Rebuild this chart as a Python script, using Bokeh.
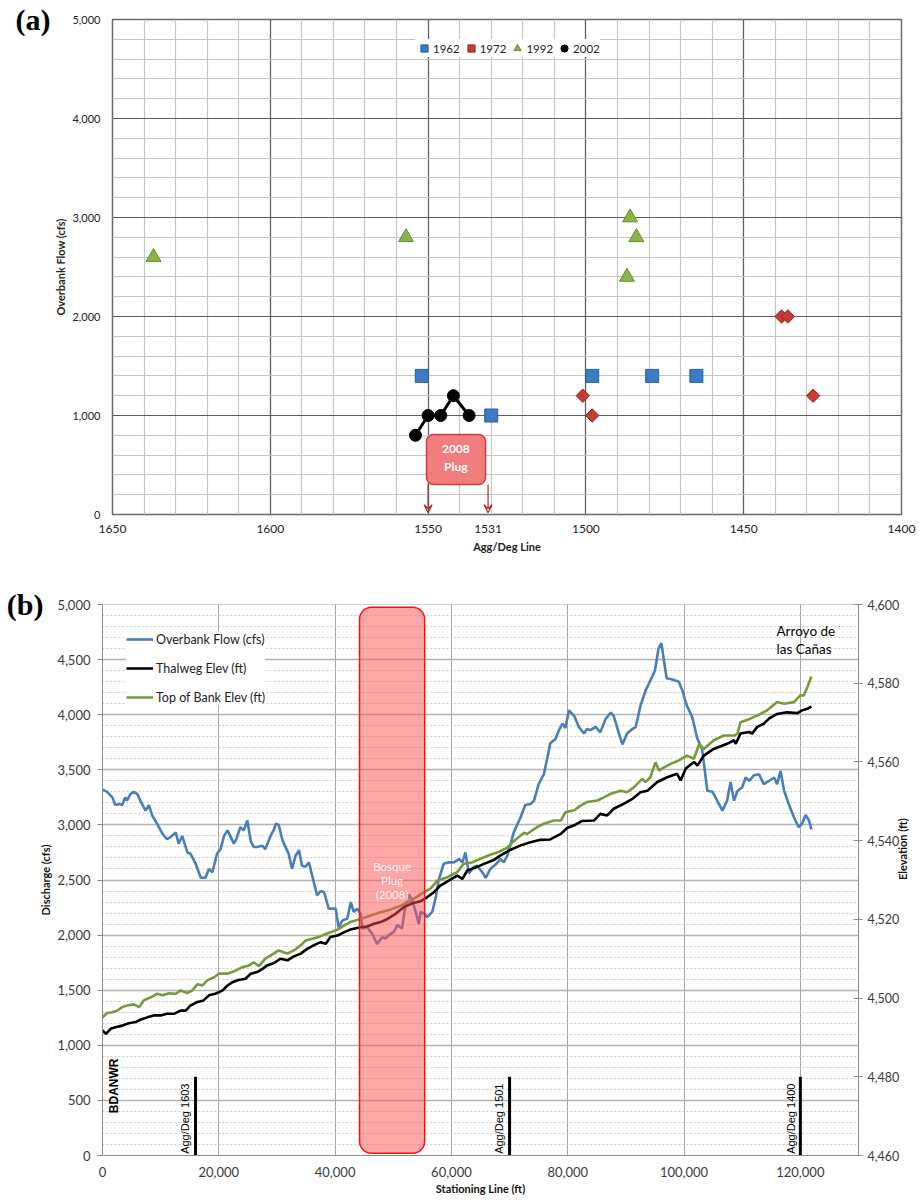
import numpy as np
from bokeh.plotting import figure
from bokeh.layouts import column
from bokeh.models import (Range1d, LinearAxis, FixedTicker, NumeralTickFormatter, Legend,
                          LegendItem, Label, Arrow, VeeHead, Span)
from bokeh.embed import file_html
from bokeh.resources import INLINE

# ---------------- panel (a) data ----------------
agg_1962 = [1552, 1530, 1498, 1479, 1465]
flow_1962 = [1400, 1000, 1400, 1400, 1400]
agg_1972 = [1501, 1498, 1438, 1436, 1428]
flow_1972 = [1200, 1000, 2000, 2000, 1200]
agg_1992 = [1637, 1557, 1486, 1484, 1487]
flow_1992 = [2600, 2800, 3000, 2800, 2400]
agg_2002 = [1554, 1550, 1546, 1542, 1537]
flow_2002 = [800, 1000, 1000, 1200, 1000]
agg_ticks = [1650, 1600, 1550, 1531, 1500, 1450, 1400]
plug_agg_lines = [1550, 1531]

# ---------------- panel (b) data ----------------
flow_station = [0, 800, 1700, 2200, 2800, 3400, 3900, 4200, 4800, 5400, 6000, 6500, 7400, 8000,
                8500, 9400, 10300, 11100, 11700, 12600, 13100, 13700, 14600, 15100, 16000, 16900,
                17700, 18300, 18900, 19700, 20300, 20900, 21500, 22600, 23000, 23700, 24300, 24900,
                25500, 26000, 26600, 27500, 28000, 28900, 29500, 29800, 30300, 30900, 31200, 32000,
                32600, 33200, 33800, 34300, 34900, 35500, 36100, 36900, 37500, 38100, 38900, 40100,
                40600, 41200, 42100, 42700, 43200, 43800, 44400, 44700, 45500, 46400, 47200, 48100,
                48700, 49200, 50100, 50700, 51500, 52100, 52700, 53300, 53800, 54400, 54700, 55500,
                55800, 56700, 57300, 57800, 58700, 59600, 60400, 61300, 61900, 62400, 63000, 63900,
                64400, 65300, 65900, 66700, 67600, 68400, 69000, 69600, 70200, 70700, 71900, 72700,
                73600, 74200, 75000, 75900, 76500, 77000, 77900, 78500, 79100, 79600, 80200, 81100,
                81900, 82800, 83300, 83900, 84800, 85600, 86500, 87400, 87900, 88800, 89400, 90200,
                91100, 91700, 92500, 93400, 94200, 95000, 95600, 96100, 97000, 98000, 99100, 99700,
                100500, 101400, 102300, 103100, 104000, 104900, 105700, 106600, 107400, 108000,
                108600, 109200, 110000, 110600, 111200, 112000, 112900, 113700, 114600, 115500,
                116000, 116600, 117200, 118000, 118900, 119700, 120300, 120900, 121500, 121900]
flow_cfs = [3320, 3300, 3250, 3180, 3190, 3180, 3250, 3220, 3280, 3300, 3280, 3220, 3130, 3180,
            3090, 3010, 2920, 2870, 2890, 2930, 2830, 2900, 2750, 2740, 2650, 2520,
            2520, 2600, 2570, 2740, 2780, 2900, 2950, 2830, 2870, 2980, 2950, 3040,
            2850, 2800, 2800, 2810, 2780, 2900, 2960, 3010, 3000, 2870, 2830, 2740,
            2600, 2720, 2770, 2630, 2620, 2660, 2530, 2360, 2400, 2390, 2240, 2240,
            2070, 2130, 2150, 2300, 2210, 2240, 2190, 2060, 2070, 2010, 1920, 1980,
            1970, 2000, 2030, 2090, 2060, 2270, 2370, 2310, 2220, 2100, 2210, 2190,
            2160, 2210, 2340, 2500, 2650, 2660, 2660, 2690, 2660, 2750, 2560, 2620,
            2630, 2570, 2520, 2600, 2640, 2690, 2660, 2720, 2830, 2930, 3070, 3180,
            3190, 3220, 3370, 3460, 3610, 3740, 3780, 3860, 3920, 3880, 4040, 3990,
            3890, 3830, 3870, 3860, 3890, 3840, 3960, 4020, 3990, 3830, 3730, 3830,
            3870, 3890, 4080, 4220, 4310, 4400, 4600, 4650, 4330, 4320, 4300, 4220,
            4080, 3980, 3780, 3690, 3310, 3300, 3220, 3130, 3220, 3390,
            3220, 3310, 3340, 3430, 3400, 3450, 3460, 3370, 3400, 3430,
            3370, 3490, 3310, 3190, 3070, 2980, 3010, 3090, 3040, 2960]

thalweg_station = [0, 600, 1400, 2200, 3400, 4500, 5700, 6500, 7700, 8800, 10000, 11100, 12300,
                   13400, 14300, 15100, 16300, 17400, 18300, 19400, 20600, 21500, 22300, 23400,
                   24600, 25500, 26600, 27500, 28300, 29500, 30600, 31800, 32900, 34100, 35200,
                   36300, 37500, 38400, 39200, 40400, 41500, 42600, 44400, 45500, 46700, 47800,
                   49000, 50400, 51800, 53300, 54700, 55800, 57000, 58100, 59600, 61000, 61900,
                   62700, 64200, 65600, 67300, 68400, 70200, 71900, 73600, 75300, 77000, 78800,
                   79900, 81100, 82500, 84500, 85600, 86800, 87900, 89700, 91100, 92500, 93700,
                   95400, 97100, 98800, 99400, 100300, 101700, 102300, 103400, 105100, 107400,
                   108600, 108900, 109700, 111200, 111700, 112600, 113700, 114600, 116000,
                   117700, 119500, 120300, 121200, 121900]
thalweg_elev = [4491.8, 4490.9, 4492.2, 4492.6, 4493.0, 4493.6, 4493.9, 4494.5, 4495.1, 4495.6,
                4495.6, 4496.0, 4496.0, 4496.8, 4496.8, 4498.1, 4499.0, 4499.4, 4500.7, 4501.1,
                4501.9, 4503.2, 4504.0, 4504.6, 4504.9, 4506.2, 4506.6, 4507.4, 4508.3, 4508.9,
                4510.0, 4509.6, 4510.6, 4511.3, 4512.5, 4513.4, 4514.2, 4513.8, 4515.5, 4515.9,
                4516.7, 4517.4, 4518.0, 4518.2, 4518.9, 4519.3, 4520.1, 4521.4, 4523.1, 4524.1,
                4524.6, 4525.6, 4526.9, 4528.6, 4529.9, 4531.1, 4530.3, 4532.4, 4533.2, 4534.1,
                4535.1, 4536.2, 4537.7, 4538.8, 4539.6, 4540.2, 4540.3, 4541.7, 4543.2, 4543.9,
                4545.0, 4545.1, 4546.8, 4546.4, 4548.1, 4549.4, 4550.6, 4552.3, 4552.7, 4554.9,
                4556.1, 4557.0, 4555.3, 4558.3, 4560.0, 4559.1, 4561.6, 4563.3, 4564.6, 4565.5,
                4564.6, 4567.2, 4567.6, 4567.2, 4568.9, 4569.7, 4571.0, 4572.2, 4572.6, 4572.4,
                4573.1, 4573.5, 4574.1]

bank_station = [0, 800, 1700, 2500, 3400, 4200, 5400, 6300, 7100, 8300, 9400, 10300, 11400, 12600,
                13400, 14600, 15400, 16300, 17200, 18000, 19200, 20000, 21500, 22600, 24000,
                25200, 26000, 26900, 28000, 29200, 30300, 31800, 32900, 34100, 34900, 36100,
                37200, 38400, 39200, 40400, 41500, 42600, 44400, 46100, 47800, 49200, 51000,
                52700, 54400, 55300, 56400, 57600, 59300, 61000, 62100, 63600, 65300, 66700,
                68200, 69600, 70800, 72500, 73000, 74800, 75900, 77600, 78800, 79600, 81100,
                82200, 83300, 85100, 86200, 87400, 89100, 90200, 91400, 92800, 93400, 94200,
                95100, 95700, 96200, 97700, 99100, 100500, 101700, 102600, 103400, 105100,
                106900, 108600, 109200, 109700, 110900, 112600, 114300, 116000, 117200, 118900,
                120000, 120600, 121200, 121900]
bank_elev = [4495.1, 4496.2, 4496.4, 4496.8, 4497.7, 4498.1, 4498.4, 4497.7, 4499.4, 4500.2,
             4501.1, 4500.7, 4501.2, 4501.1, 4501.9, 4501.3, 4501.9, 4503.5, 4503.2, 4504.5,
             4505.3, 4506.2, 4506.2, 4506.8, 4507.8, 4508.3, 4509.1, 4508.1, 4510.0, 4511.1,
             4512.1, 4511.3, 4512.1, 4513.4, 4514.6, 4515.1, 4515.5, 4516.3, 4516.7, 4517.4,
             4518.4, 4519.3, 4520.1, 4521.0, 4521.8, 4522.3, 4523.3, 4524.4, 4526.1, 4526.9,
             4527.8, 4529.9, 4530.7, 4532.0, 4534.1, 4534.5, 4535.6, 4536.4, 4537.2, 4538.2,
             4540.0, 4542.0, 4541.7, 4543.5, 4544.3, 4545.1, 4545.1, 4547.2, 4547.7, 4548.9,
             4549.8, 4550.2, 4551.0, 4551.9, 4552.7, 4552.3, 4553.6, 4555.7, 4554.9, 4556.1,
             4559.9, 4557.8, 4558.3, 4559.5, 4560.4, 4561.6, 4560.8, 4564.6, 4563.3, 4565.5,
             4566.7, 4566.7, 4567.2, 4570.1, 4570.7, 4571.8, 4573.1, 4575.2, 4574.8, 4575.2,
             4576.9, 4576.9, 4579.0, 4581.7]

agg_deg_station = [16000, 70000, 120000]
agg_deg_labels = ["Agg/Deg 1603", "Agg/Deg 1501", "Agg/Deg 1400"]
plug_station = [44200, 55400]

FONT = "Lato"
SANS = "Liberation Sans"
SERIF = "Liberation Serif"


def panel_tag(p, text, standoff):
    """Panel letter drawn as the single label of an outer, invisible left axis."""
    ax = LinearAxis(ticker=FixedTicker(ticks=[5000]), major_label_overrides={5000: text})
    ax.axis_line_color = None
    ax.major_tick_line_color = None
    ax.minor_tick_line_color = None
    ax.major_tick_out = 0
    ax.major_tick_in = 0
    ax.minor_tick_out = 0
    ax.minor_tick_in = 0
    ax.major_label_standoff = standoff
    ax.major_label_text_font = SERIF
    ax.major_label_text_font_style = "bold"
    ax.major_label_text_font_size = "30px"
    ax.major_label_text_color = "black"
    p.add_layout(ax, "left")


# ======================= panel (a) =======================
p1 = figure(width=919, height=575, x_range=Range1d(1650, 1400), y_range=Range1d(0, 5000),
            output_backend="svg", toolbar_location=None,
            min_border_left=112, min_border_right=18, min_border_top=19, min_border_bottom=61)
p1.frame_align = False
p1.background_fill_color = "white"
p1.border_fill_color = "white"
p1.outline_line_color = "#6a6a6a"
p1.outline_line_width = 1.5

p1.xaxis.ticker = FixedTicker(ticks=agg_ticks)
p1.yaxis.ticker = FixedTicker(ticks=list(range(0, 5001, 1000)))
p1.yaxis.formatter = NumeralTickFormatter(format="0,0")
p1.xgrid.ticker = FixedTicker(ticks=list(range(1400, 1651, 50)), minor_ticks=list(range(1400, 1651, 10)))
p1.ygrid.ticker = FixedTicker(ticks=list(range(0, 5001, 1000)), minor_ticks=list(range(0, 5001, 200)))
for g in (p1.xgrid, p1.ygrid):
    g.grid_line_color = "#5e5e5e"
    g.grid_line_width = 1.2
    g.minor_grid_line_color = "#c6c6c6"
    g.minor_grid_line_width = 1.2
for ax in (p1.xaxis, p1.yaxis):
    ax.axis_line_color = None
    ax.major_tick_line_color = None
    ax.minor_tick_line_color = None
    ax.major_tick_out = 0
    ax.minor_tick_out = 0
    ax.major_label_text_font = FONT
    ax.major_label_text_color = "#222222"
    ax.axis_label_text_font = FONT
    ax.axis_label_text_font_style = "bold"
    ax.axis_label_text_font_size = "11px"
    ax.axis_label_text_color = "#222222"
p1.xaxis.major_label_text_font_size = "12px"
p1.yaxis.major_label_text_font_size = "11px"
p1.xaxis.major_label_standoff = 10
p1.yaxis.major_label_standoff = 12
p1.xaxis.axis_label = "Agg/Deg Line"
p1.yaxis.axis_label = "Overbank Flow (cfs)"
p1.xaxis.axis_label_standoff = 4
p1.yaxis.axis_label_standoff = 2
panel_tag(p1, "(a)", 1)

r62 = p1.scatter(agg_1962, flow_1962, marker="square", size=13,
                 fill_color="#3c7bc6", line_color="#2b5f9e", line_width=1)
r72 = p1.scatter(agg_1972, flow_1972, marker="square", angle=np.pi / 4, size=9.5,
                 fill_color="#c43d35", line_color="#962820", line_width=1)
r92 = p1.scatter(agg_1992, flow_1992, marker="triangle", size=15,
                 fill_color="#8cb34a", line_color="#6a8c30", line_width=1)
p1.line(agg_2002, flow_2002, line_color="black", line_width=3)
r02 = p1.scatter(agg_2002, flow_2002, marker="circle", size=12,
                 fill_color="black", line_color="black")

# 2008 plug box and arrows
p1.quad(left=1550.5, right=1531.8, bottom=303, top=808, fill_color="#f27d7d",
        line_color="#d63a3a", line_width=1.5, border_radius=7)
for t, yy in (("2008", 660), ("Plug", 480)):
    p1.add_layout(Label(x=1541.2, y=yy, text=t, text_align="center", text_baseline="middle",
                        text_font=FONT, text_font_style="bold", text_font_size="12px",
                        text_color="white"))
for xa in plug_agg_lines:
    p1.add_layout(Arrow(end=VeeHead(size=8, line_color="#b02a2a", line_width=1.2, fill_color=None),
                        x_start=xa, y_start=303, x_end=xa, y_end=18,
                        line_color="#b02a2a", line_width=1.2))

leg1 = Legend(items=[LegendItem(label="1962", renderers=[r62]),
                     LegendItem(label="1972", renderers=[r72]),
                     LegendItem(label="1992", renderers=[r92]),
                     LegendItem(label="2002", renderers=[r02])],
              orientation="horizontal", location=(303, 457), glyph_width=18, glyph_height=18,
              label_height=18, label_standoff=0, spacing=2, padding=2, margin=0,
              label_text_font=FONT, label_text_font_size="11.5px", label_text_color="#222222",
              border_line_color=None, background_fill_color="white", background_fill_alpha=1)
p1.add_layout(leg1)

# ======================= panel (b) =======================
p2 = figure(width=919, height=628, x_range=Range1d(0, 130000), y_range=Range1d(0, 5000),
            output_backend="svg", toolbar_location=None,
            min_border_left=102, min_border_right=61, min_border_top=29, min_border_bottom=48)
p2.frame_align = False
p2.background_fill_color = "white"
p2.border_fill_color = "white"
p2.outline_line_color = None
p2.extra_y_ranges = {"elev": Range1d(4460, 4600)}

p2.xaxis.ticker = FixedTicker(ticks=list(range(0, 120001, 20000)))
p2.xaxis.formatter = NumeralTickFormatter(format="0,0")
yl = FixedTicker(ticks=list(range(0, 5001, 500)), minor_ticks=list(range(0, 5001, 100)))
p2.yaxis.ticker = yl
p2.yaxis.formatter = NumeralTickFormatter(format="0,0")
p2.xgrid.ticker = FixedTicker(ticks=list(range(0, 120001, 20000)))
p2.ygrid.ticker = yl
p2.xgrid.grid_line_color = "#a6a6a6"
p2.xgrid.grid_line_width = 1
p2.ygrid.grid_line_color = "#b4b4b4"
p2.ygrid.grid_line_width = 1.6
p2.ygrid.minor_grid_line_color = "#bdbdbd"
p2.ygrid.minor_grid_line_width = 0.8
p2.ygrid.minor_grid_line_dash = "2 2"

for ax in (p2.xaxis, p2.yaxis):
    ax.axis_line_color = "#8c8c8c"
    ax.minor_tick_line_color = None
    ax.minor_tick_out = 0
    ax.major_label_text_font = FONT
    ax.major_label_text_font_size = "13px"
    ax.major_label_text_color = "#3a3a3a"
    ax.axis_label_text_font = FONT
    ax.axis_label_text_font_style = "bold"
    ax.axis_label_text_font_size = "11px"
    ax.axis_label_text_color = "#111111"
p2.xaxis.major_tick_line_color = None
p2.xaxis.major_tick_out = 0
p2.xaxis.major_label_standoff = 11
p2.xaxis.axis_label = "Stationing Line (ft)"
p2.xaxis.axis_label_standoff = 2
p2.yaxis.major_tick_line_color = "#8c8c8c"
p2.yaxis.major_tick_out = 5
p2.yaxis.major_tick_in = 0
p2.yaxis.major_label_standoff = 7
p2.yaxis.axis_label = "Discharge (cfs)"
p2.yaxis.axis_label_standoff = 2
panel_tag(p2, "(b)", -7)

right_ax = LinearAxis(y_range_name="elev", ticker=FixedTicker(ticks=list(range(4460, 4601, 20))),
                      formatter=NumeralTickFormatter(format="0,0"))
right_ax.axis_line_color = "#8c8c8c"
right_ax.major_tick_line_color = "#8c8c8c"
right_ax.major_tick_out = 4
right_ax.major_tick_in = 5
right_ax.minor_tick_line_color = None
right_ax.minor_tick_out = 0
right_ax.major_label_standoff = 5
right_ax.major_label_text_font = FONT
right_ax.major_label_text_font_size = "12.5px"
right_ax.major_label_text_color = "#3a3a3a"
right_ax.axis_label = "Elevation (ft)"
right_ax.axis_label_standoff = 0
right_ax.axis_label_orientation = np.pi / 2
right_ax.axis_label_text_font = FONT
right_ax.axis_label_text_font_style = "bold"
right_ax.axis_label_text_font_size = "11px"
right_ax.axis_label_text_color = "#111111"
p2.add_layout(right_ax, "right")

p2.add_layout(Span(location=5000, dimension="width", line_color="#7ea6d8", line_width=1.2))

rb = p2.line(flow_station, flow_cfs, line_color="#4a7ebb", line_width=2.6)
rk = p2.line(thalweg_station, thalweg_elev, y_range_name="elev", line_color="black", line_width=2.6)
rg = p2.line(bank_station, bank_elev, y_range_name="elev", line_color="#78993c", line_width=2.6)

p2.segment(x0=agg_deg_station, y0=[4460] * 3, x1=agg_deg_station, y1=[4480] * 3,
           y_range_name="elev", line_color="black", line_width=3)

p2.quad(left=plug_station[0], right=plug_station[1], bottom=20, top=4975,
        fill_color="#ff4d4d", fill_alpha=0.5, line_color="#ff1010", line_width=1.5, border_radius=12)
for t, yy in (("Bosque", 2622), ("Plug", 2495), ("(2008)", 2368)):
    p2.add_layout(Label(x=49800, y=yy, text=t, text_align="center", text_baseline="middle",
                        text_font=FONT, text_font_size="11.5px", text_color="#fff0f0"))

for xs, t in zip([14150, 68150, 118430], agg_deg_labels):
    p2.add_layout(Label(x=xs, y=15, text=t, angle=np.pi / 2, text_align="left",
                        text_baseline="middle", text_font=SANS, text_font_size="11px",
                        text_color="black"))
p2.add_layout(Label(x=1940, y=384, text="BDANWR", angle=np.pi / 2, text_align="left",
                    text_baseline="middle", text_font=SANS, text_font_style="bold",
                    text_font_size="12px", text_color="black"))
p2.add_layout(Label(x=115900, y=4764, text="Arroyo de", text_align="left", text_baseline="middle",
                    text_font=FONT, text_font_size="13.5px", text_color="black"))
p2.add_layout(Label(x=115900, y=4600, text="las Cañas", text_align="left", text_baseline="middle",
                    text_font=FONT, text_font_size="13.5px", text_color="black"))

leg2 = Legend(items=[LegendItem(label="Overbank Flow (cfs)", renderers=[rb]),
                     LegendItem(label="Thalweg Elev (ft)", renderers=[rk]),
                     LegendItem(label="Top of Bank Elev (ft)", renderers=[rg])],
              orientation="vertical", location=(24, 450), glyph_width=27, glyph_height=16,
              label_height=16, label_standoff=3, spacing=13, padding=10, margin=0,
              label_text_font=FONT, label_text_font_size="12.5px", label_text_color="#222222",
              border_line_color=None, background_fill_color="white", background_fill_alpha=1)
p2.add_layout(leg2)

layout = column(p1, p2, spacing=0)
open("out.html", "w").write(file_html(layout, INLINE))
